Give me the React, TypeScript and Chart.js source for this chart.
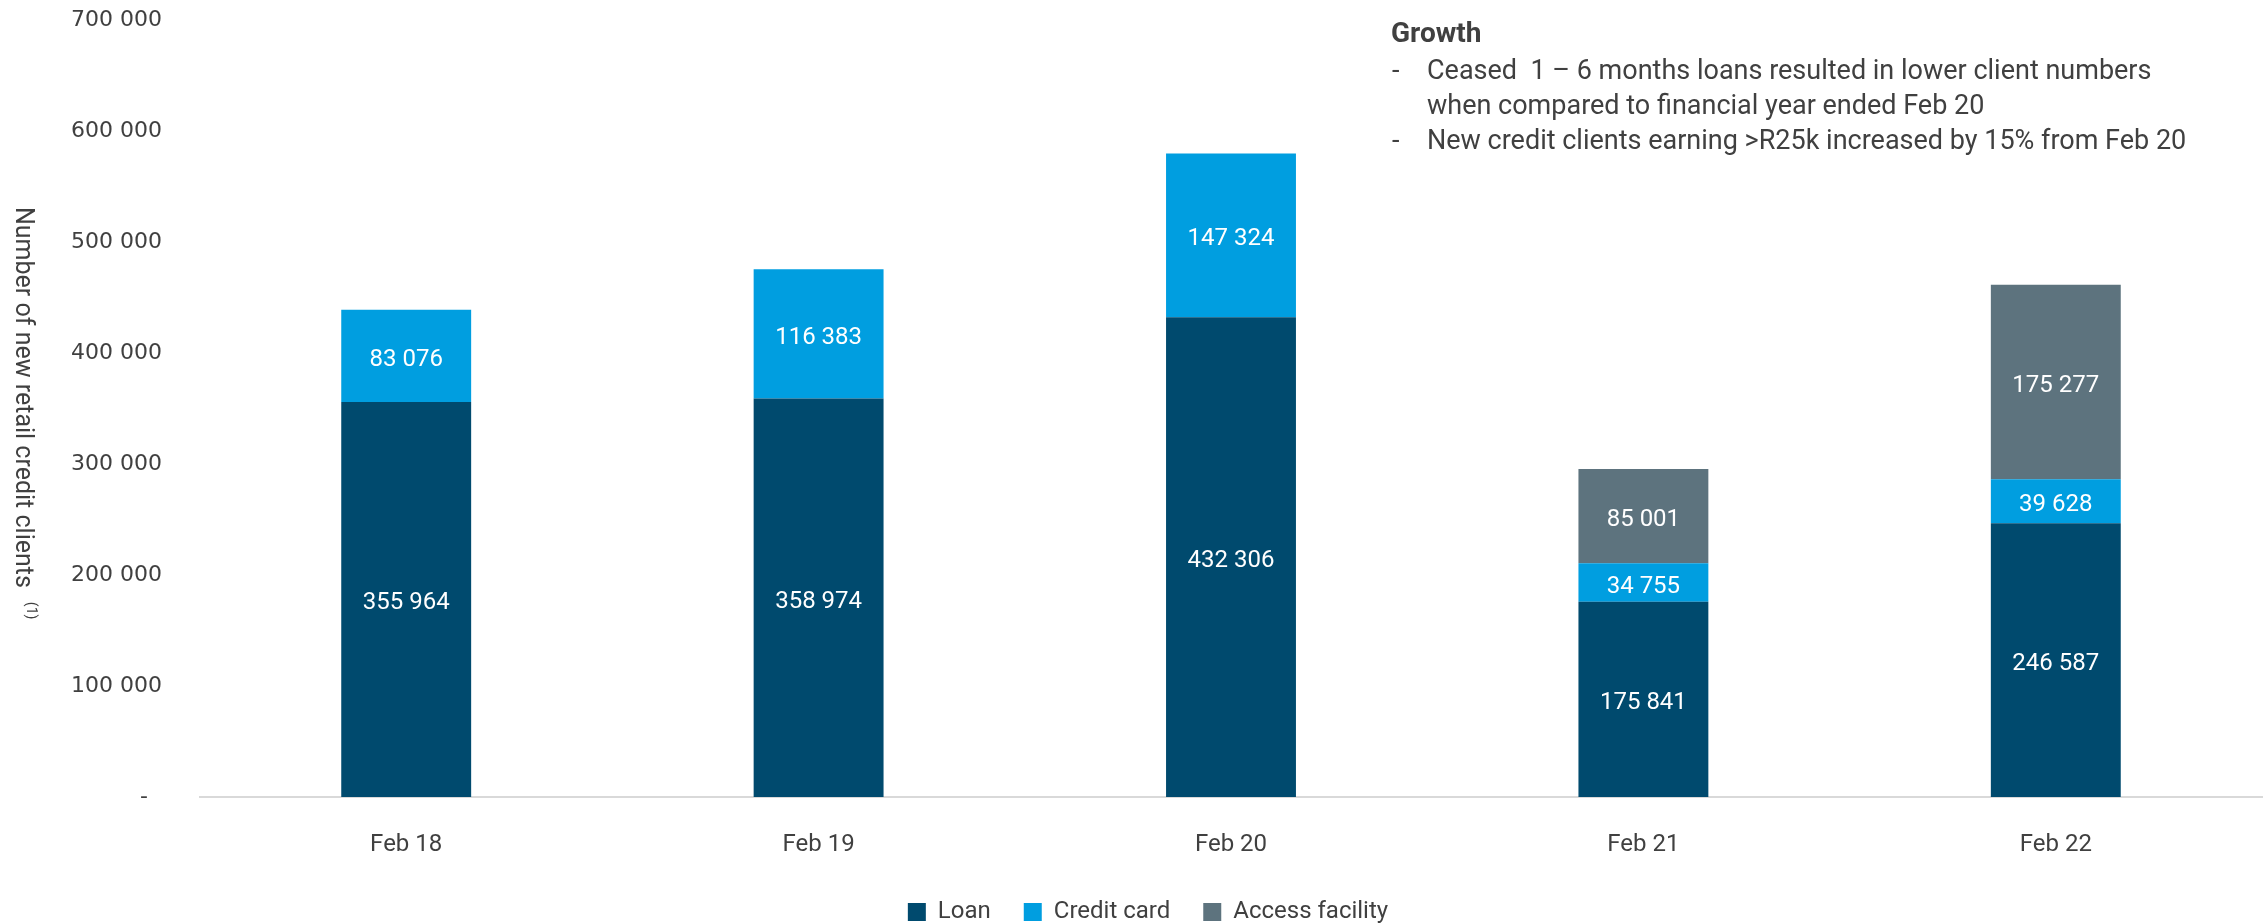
import React, { useEffect, useRef } from 'react';
import { Chart, registerables } from 'chart.js';

Chart.register(...registerables);

const categories = ['Feb 18', 'Feb 19', 'Feb 20', 'Feb 21', 'Feb 22'];
const loanValues = [355964, 358974, 432306, 175841, 246587];
const creditCardValues = [83076, 116383, 147324, 34755, 39628];
const accessFacilityValues = [null, null, null, 85001, 175277];
const seriesNames = ['Loan', 'Credit card', 'Access facility'];
const seriesColors = ['#004a6e', '#009ee0', '#5d737e'];
const yMin = 0;
const yMax = 700000;
const yStep = 100000;
const yAxisTitle = 'Number of new retail credit clients';
const yAxisTitleNote = '(1)';
const noteTitle = 'Growth';
const noteLines = [
  { bullet: true, text: 'Ceased  1 \u2013 6 months loans resulted in lower client numbers' },
  { bullet: false, text: 'when compared to financial year ended Feb 20' },
  { bullet: true, text: 'New credit clients earning >R25k increased by 15% from Feb 20' },
];

const fmt = (v: number) => String(Math.round(v)).replace(/\B(?=(\d{3})+(?!\d))/g, ' ');

const W = 2267;
const H = 934;
const TEXT = '#404040';
const FONT = 'Roboto, "Noto Sans", sans-serif';

const barLabels = {
  id: 'barLabels',
  afterDatasetsDraw(chart: any) {
    const ctx = chart.ctx;
    ctx.save();
    ctx.fillStyle = '#ffffff';
    ctx.font = `24px ${FONT}`;
    ctx.textAlign = 'center';
    ctx.textBaseline = 'middle';
    chart.data.datasets.forEach((ds: any, di: number) => {
      const meta = chart.getDatasetMeta(di);
      meta.data.forEach((el: any, i: number) => {
        const v = ds.data[i];
        if (v == null || v === 0) return;
        ctx.fillText(fmt(v), el.x, (el.y + el.base) / 2 + 4);
      });
    });
    ctx.restore();
  },
};

const legendShift = {
  id: 'legendShift',
  afterLayout(chart: any) {
    const l = chart.legend;
    if (l) {
      l.left += 17;
      l.right += 17;
    }
  },
};

const texts = {
  id: 'texts',
  afterDraw(chart: any) {
    const ctx = chart.ctx;
    ctx.save();
    ctx.fillStyle = TEXT;
    ctx.textBaseline = 'middle';
    ctx.textAlign = 'left';
    ctx.font = `bold 28px ${FONT}`;
    ctx.fillText(noteTitle, 1391, 35);
    ctx.font = `27px ${FONT}`;
    noteLines.forEach((l, i) => {
      const y = 72 + i * 35;
      if (l.bullet) ctx.fillText('-', 1392, y);
      ctx.fillText(l.text, 1427, y);
    });
    // rotated y-axis title (reads top to bottom)
    ctx.translate(22, 207);
    ctx.rotate(Math.PI / 2);
    ctx.font = `25px ${FONT}`;
    ctx.textBaseline = 'middle';
    ctx.fillText(yAxisTitle, 0, 0);
    const w = ctx.measureText(yAxisTitle).width;
    ctx.font = `14px ${FONT}`;
    ctx.fillText(yAxisTitleNote, w + 14, -8);
    ctx.restore();
  },
};

export default function App() {
  const ref = useRef<HTMLCanvasElement | null>(null);
  useEffect(() => {
    if (!ref.current) return;
    const chart = new Chart(ref.current, {
      type: 'bar',
      data: {
        labels: categories,
        datasets: [
          { label: seriesNames[0], data: loanValues, backgroundColor: seriesColors[0] },
          { label: seriesNames[1], data: creditCardValues, backgroundColor: seriesColors[1] },
          { label: seriesNames[2], data: accessFacilityValues as any, backgroundColor: seriesColors[2] },
        ],
      },
      options: {
        animation: false,
        responsive: false,
        maintainAspectRatio: false,
        devicePixelRatio: 1,
        layout: { padding: { top: 20, right: 5, left: 0, bottom: 0 } },
        datasets: { bar: { categoryPercentage: 1, barPercentage: 0.315, borderWidth: 0 } },
        plugins: {
          tooltip: { enabled: false },
          legend: {
            position: 'bottom',
            labels: {
              boxWidth: 18,
              boxHeight: 18,
              padding: 33,
              color: TEXT,
              font: { family: FONT, size: 24 },
            },
          },
        },
        scales: {
          x: {
            stacked: true,
            grid: { display: false, drawTicks: false },
            border: { display: true, color: '#d9d9d9', width: 2 },
            ticks: { color: TEXT, font: { family: FONT, size: 24 }, padding: 34 },
            afterFit: (s: any) => { s.height = 70; },
          },
          y: {
            stacked: true,
            min: yMin,
            max: yMax,
            grid: { display: false, drawTicks: false },
            border: { display: false },
            ticks: {
              stepSize: yStep,
              color: TEXT,
              font: { family: '"DejaVu Sans", sans-serif', size: 22 },
              padding: 38,
              callback: (v: any) => (Number(v) === 0 ? '-  ' : fmt(Number(v))),
            },
            title: { display: false },
            afterFit: (s: any) => {
              s.width = 200;
              s.paddingTop = 0;
              s.paddingBottom = 0;
            },
          },
        },
      },
      plugins: [barLabels, legendShift, texts],
    });
    return () => chart.destroy();
  }, []);
  return (
    <div style={{ position: 'fixed', left: 0, top: 0, width: W, height: 923, overflow: 'hidden', background: '#fff' }}>
      <canvas ref={ref} width={W} height={H} style={{ width: W, height: H, display: 'block' }} />
    </div>
  );
}
